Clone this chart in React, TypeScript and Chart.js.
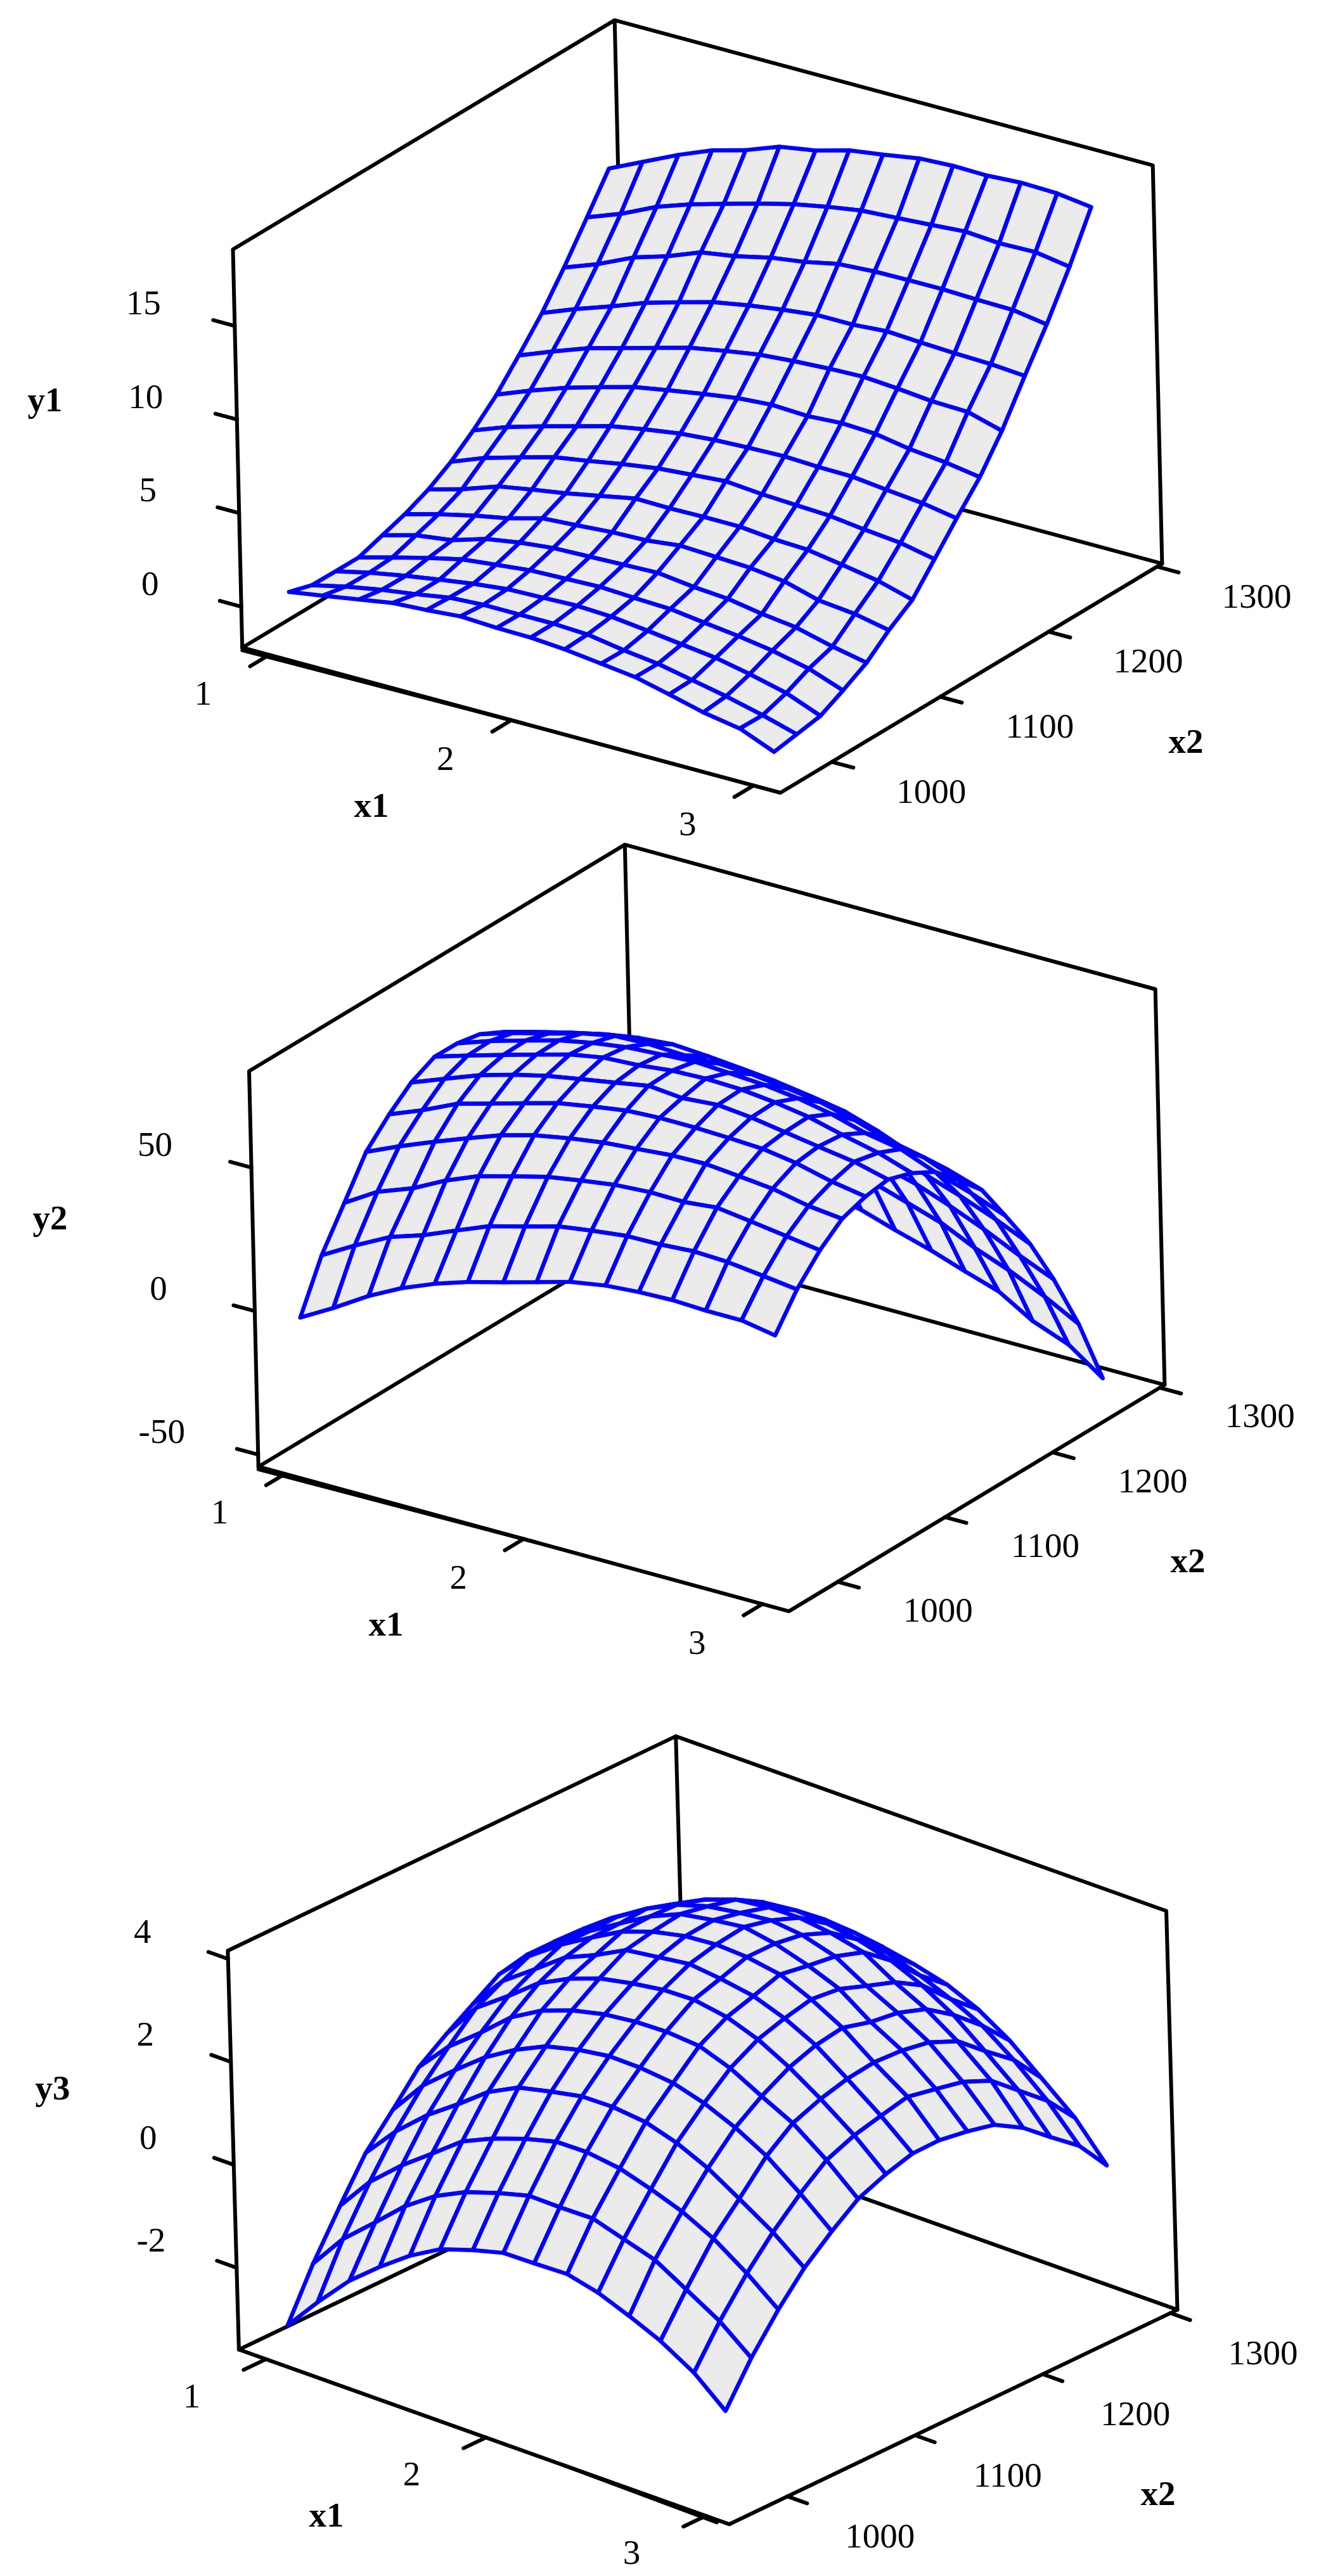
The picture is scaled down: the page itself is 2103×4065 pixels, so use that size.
import React, { useEffect, useRef } from "react";
import { Chart, registerables } from "chart.js";

Chart.register(...registerables);

const x1Grid = [1, 1.14, 1.29, 1.43, 1.57, 1.71, 1.86, 2, 2.14, 2.29, 2.43, 2.57, 2.71, 2.86, 3];
const x2Grid = [972, 993, 1015, 1036, 1058, 1079, 1101, 1122, 1143, 1165, 1186, 1208, 1229, 1251, 1272];
const x1Ticks = [1, 2, 3];
const x2Ticks = [1000, 1100, 1200, 1300];
const y1Ticks = [0, 5, 10, 15];
const y2Ticks = [-50, 0, 50];
const y3Ticks = [-2, 0, 2, 4];

// each row: one x2 value, values along x1
const y1Rows = [
  [0.5, 0.79, 1.11, 1.41, 1.52, 1.67, 1.58, 1.55, 1.41, 1.17, 0.94, 0.5, 0.03, -0.31, -1.07],
  [0.13, 0.54, 0.89, 1.15, 1.45, 1.56, 1.56, 1.56, 1.47, 1.15, 0.92, 0.54, 0.16, -0.33, -0.86],
  [0.11, 0.52, 0.87, 1.16, 1.43, 1.63, 1.69, 1.75, 1.66, 1.43, 1.19, 0.96, 0.58, 0.09, -0.64],
  [0.11, 0.6, 1.1, 1.51, 1.71, 1.91, 1.97, 2.03, 1.94, 1.86, 1.62, 1.39, 1.1, 0.66, -0.01],
  [0.53, 1.02, 1.28, 1.84, 2.13, 2.33, 2.39, 2.45, 2.51, 2.27, 2.13, 1.81, 1.58, 1.08, 0.7],
  [0.93, 1.42, 1.86, 2.21, 2.7, 2.82, 2.97, 3.02, 3.23, 3.14, 3.05, 2.82, 2.3, 2.09, 1.71],
  [1.49, 1.99, 2.66, 2.98, 3.27, 3.62, 4.0, 3.97, 4.0, 4.0, 3.82, 3.74, 3.44, 3.09, 2.57],
  [2.23, 2.93, 3.48, 3.98, 4.27, 4.59, 4.88, 5.03, 5.17, 5.0, 4.91, 4.82, 4.59, 4.39, 4.01],
  [3.18, 3.85, 4.41, 4.9, 5.4, 5.72, 6.01, 6.16, 6.24, 6.3, 6.22, 6.19, 5.98, 5.78, 5.46],
  [4.33, 5.03, 5.7, 6.23, 6.72, 7.04, 7.36, 7.63, 7.77, 7.68, 7.8, 7.71, 7.39, 7.19, 6.9],
  [5.69, 6.39, 7.09, 7.59, 8.08, 8.58, 8.93, 9.22, 9.37, 9.48, 9.54, 9.4, 9.22, 9.16, 8.64],
  [7.19, 7.89, 8.56, 9.23, 9.76, 10.25, 10.6, 10.86, 11.07, 11.07, 11.21, 11.1, 11.01, 10.95, 10.81],
  [8.89, 9.56, 10.44, 10.99, 11.69, 11.98, 12.42, 12.68, 13.06, 13.18, 13.21, 13.21, 13.15, 13.12, 12.83],
  [10.81, 11.48, 12.38, 13.0, 13.52, 14.02, 14.51, 14.86, 15.15, 15.27, 15.39, 15.53, 15.39, 15.44, 15.15],
  [12.69, 13.53, 14.43, 15.16, 15.66, 16.33, 16.65, 17.15, 17.41, 17.73, 17.82, 17.79, 17.9, 17.85, 17.61],
];

const y2Rows = [
  [-3.7, 2.8, 10.4, 16.3, 21.0, 24.8, 28.1, 31.3, 34.6, 36.7, 37.6, 38.0, 37.5, 37.5, 35.4],
  [13.3, 19.8, 26.2, 30.0, 34.8, 39.5, 42.8, 46.0, 47.7, 49.2, 49.4, 50.2, 49.7, 48.2, 46.7],
  [26.6, 33.6, 38.2, 44.1, 48.8, 51.9, 55.1, 57.0, 58.7, 59.5, 59.3, 60.5, 58.9, 57.1, 55.4],
  [39.6, 44.7, 49.7, 54.1, 58.3, 61.5, 63.8, 65.5, 66.5, 67.6, 67.8, 66.7, 65.5, 62.9, 61.6],
  [47.7, 52.3, 58.0, 61.2, 64.5, 67.7, 69.9, 71.7, 72.3, 72.3, 71.9, 71.3, 69.5, 66.4, 64.4],
  [54.1, 58.5, 63.2, 66.5, 69.3, 71.4, 73.5, 75.6, 74.5, 75.5, 74.3, 72.4, 70.5, 68.6, 65.6],
  [58.1, 61.7, 65.3, 68.6, 71.8, 73.9, 74.6, 75.9, 76.3, 75.9, 74.6, 72.7, 69.7, 66.8, 62.9],
  [58.0, 62.0, 65.6, 68.8, 71.1, 72.8, 73.6, 74.3, 73.6, 72.8, 71.3, 69.0, 65.6, 63.3, 58.6],
  [56.5, 60.1, 63.3, 66.5, 68.8, 69.2, 68.6, 69.0, 68.4, 66.9, 65.2, 62.2, 58.4, 55.7, 51.0],
  [52.3, 55.5, 58.6, 61.2, 63.1, 64.1, 63.3, 62.2, 61.0, 59.1, 57.0, 53.2, 48.5, 46.4, 42.6],
  [45.2, 48.5, 51.3, 53.6, 54.9, 55.1, 54.2, 53.2, 51.5, 48.9, 46.6, 41.8, 37.5, 33.5, 28.9],
  [35.4, 38.2, 40.7, 42.4, 43.3, 43.3, 42.4, 41.8, 39.7, 36.1, 33.3, 28.3, 24.3, 19.4, 14.2],
  [22.6, 25.3, 27.2, 28.5, 29.5, 29.5, 28.7, 27.2, 24.1, 20.5, 17.3, 12.9, 8.0, 2.1, -2.9],
  [7.0, 9.3, 11.0, 12.4, 12.7, 12.7, 12.0, 9.5, 6.7, 2.7, -1.1, -6.7, -11.2, -17.1, -23.4],
  [-11.4, -8.9, -7.0, -5.7, -5.1, -5.9, -8.6, -11.2, -15.0, -18.7, -22.8, -26.6, -33.7, -38.6, -47.1],
];

const y3Rows = [
  [-3.14, -2.48, -1.83, -1.35, -0.92, -0.58, -0.37, -0.21, -0.2, -0.18, -0.33, -0.57, -0.84, -1.23, -1.76],
  [-2.19, -1.5, -0.95, -0.42, -0.01, 0.28, 0.49, 0.65, 0.64, 0.65, 0.46, 0.27, -0.09, -0.48, -0.98],
  [-1.33, -0.65, -0.1, 0.34, 0.79, 1.06, 1.28, 1.44, 1.45, 1.36, 1.17, 0.95, 0.64, 0.19, -0.3],
  [-0.55, 0.08, 0.63, 1.05, 1.5, 1.8, 1.95, 2.07, 2.08, 2.01, 1.82, 1.54, 1.16, 0.74, 0.26],
  [0.03, 0.71, 1.24, 1.7, 2.06, 2.34, 2.5, 2.59, 2.58, 2.51, 2.33, 2.07, 1.73, 1.23, 0.71],
  [0.61, 1.22, 1.72, 2.23, 2.57, 2.79, 2.94, 3.01, 3.03, 2.98, 2.76, 2.43, 2.12, 1.63, 1.09],
  [0.99, 1.71, 2.17, 2.63, 2.93, 3.15, 3.28, 3.37, 3.39, 3.28, 3.06, 2.73, 2.33, 1.85, 1.31],
  [1.32, 1.98, 2.44, 2.88, 3.14, 3.45, 3.54, 3.62, 3.55, 3.44, 3.22, 2.91, 2.47, 1.98, 1.46],
  [1.65, 2.22, 2.67, 3.02, 3.35, 3.56, 3.7, 3.75, 3.72, 3.61, 3.34, 3.0, 2.54, 2.1, 1.47],
  [1.77, 2.22, 2.67, 3.03, 3.38, 3.64, 3.75, 3.83, 3.72, 3.52, 3.28, 2.85, 2.51, 1.99, 1.38],
  [1.77, 2.24, 2.69, 3.07, 3.36, 3.54, 3.64, 3.71, 3.64, 3.45, 3.09, 2.78, 2.42, 1.88, 1.26],
  [1.68, 2.19, 2.58, 2.9, 3.2, 3.41, 3.49, 3.5, 3.42, 3.27, 2.9, 2.59, 2.18, 1.64, 0.94],
  [1.5, 2.01, 2.4, 2.69, 2.93, 3.11, 3.18, 3.14, 3.04, 2.86, 2.59, 2.23, 1.74, 1.2, 0.51],
  [1.18, 1.66, 2.03, 2.33, 2.54, 2.67, 2.74, 2.69, 2.53, 2.31, 2.06, 1.76, 1.31, 0.74, 0.08],
  [0.78, 1.2, 1.56, 1.84, 2.03, 2.16, 2.21, 2.17, 2.05, 1.88, 1.61, 1.22, 0.71, 0.16, -0.55],
];

const BLUE = "#0000FF";
const FACE = "#EBEBEB";
const BLACK = "#000000";
const SERIF = '"Liberation Serif", "Times New Roman", serif';
const PAGE_W = 2103;
const PAGE_H = 4065;
const BLUE_W = 6.5;
const BLACK_W = 6;

const panels = [
  {
    name: "y1", rows: y1Rows, yTicks: y1Ticks, top: 0, height: 1330,
    L: [382.2, 1022], F: [1231.2, 1251], R: [1833.4, 889.4], T: [367.5, 393.5],
    x1Lo: 0.889, x1Hi: 3.111, x2Lo: 952.6, x2Hi: 1304.6, yLo: -2.19, yHi: 19.09,
    yOff: [-144, -37], x1Off: [-104, 60], x2Off: [157, 46],
    yTitle: [71, 630], x1Title: [586, 1270], x2Title: [1871, 1169],
    wedge: [0.889, 2.05, 0.135, 0],
  },
  {
    name: "y2", rows: y2Rows, yTicks: y2Ticks, top: 1330, height: 1360,
    L: [407.7, 2314.5], F: [1244.6, 2542.6], R: [1837.4, 2185.3], T: [393, 1690.2],
    x1Lo: 0.889, x1Hi: 3.111, x2Lo: 954.5, x2Hi: 1304.5, yLo: -54.2, yHi: 83.6,
    yOff: [-152, -37], x1Off: [-103, 60], x2Off: [158, 44],
    yTitle: [79, 1921], x1Title: [609, 2562], x2Title: [1874, 2462],
    wedge: [0.889, 2.05, 0.9, 0],
  },
  {
    name: "y3", rows: y3Rows, yTicks: y3Ticks, top: 2690, height: 1375,
    L: [376.9, 3707.7], F: [1150.7, 3983.3], R: [1857.5, 3644.9], T: [359.4, 3078.3],
    x1Lo: 0.877, x1Hi: 3.107, x2Lo: 954.5, x2Hi: 1305.4, yLo: -3.59, yHi: 4.16,
    yOff: [-135, -44], x1Off: [-117, 57], x2Off: [146, 62],
    yTitle: [83, 3294], x1Title: [515, 3968], x2Title: [1827, 3934],
    wedge: [2.35, 3.05, 0, 0.05],
  },
];

type Panel = (typeof panels)[number];

function project(p: Panel, x1: number, x2: number, y: number) {
  const s = (x1 - p.x1Lo) / (p.x1Hi - p.x1Lo);
  const t = (x2 - p.x2Lo) / (p.x2Hi - p.x2Lo);
  const h = (y - p.yLo) / (p.yHi - p.yLo);
  return {
    x: p.L[0] + s * (p.F[0] - p.L[0]) + t * (p.R[0] - p.F[0]) + h * (p.T[0] - p.L[0]),
    y: p.L[1] + s * (p.F[1] - p.L[1]) + t * (p.R[1] - p.F[1]) + h * (p.T[1] - p.L[1]) - p.top,
  };
}

function lineSet(data: { x: number; y: number }[], color: string, width: number) {
  return {
    data,
    showLine: true,
    fill: false,
    borderColor: color,
    borderWidth: width,
    borderCapStyle: "round",
    borderJoinStyle: "round",
    pointRadius: 0,
    tension: 0,
    clip: false,
  };
}

function buildDatasets(p: Panel) {
  const out: any[] = [];
  const x1Span = p.x1Hi - p.x1Lo;
  const x2Span = p.x2Hi - p.x2Lo;

  // surface: nearest quad first, because the last dataset is painted first
  for (let j = 0; j < x2Grid.length - 1; j++) {
    for (let i = x1Grid.length - 2; i >= 0; i--) {
      const corners = [
        project(p, x1Grid[i], x2Grid[j], p.rows[j][i]),
        project(p, x1Grid[i + 1], x2Grid[j], p.rows[j][i + 1]),
        project(p, x1Grid[i + 1], x2Grid[j + 1], p.rows[j + 1][i + 1]),
        project(p, x1Grid[i], x2Grid[j + 1], p.rows[j + 1][i]),
      ];
      out.push({
        ...lineSet([...corners, corners[0]], BLUE, BLUE_W),
        fill: "shape",
        backgroundColor: FACE,
      });
    }
  }

  // tick marks
  for (const v of x1Ticks) {
    out.push(lineSet([project(p, v, p.x2Lo, p.yLo), project(p, v, p.x2Lo - 0.05 * x2Span, p.yLo)], BLACK, BLACK_W));
  }
  for (const v of x2Ticks) {
    out.push(lineSet([project(p, p.x1Hi, v, p.yLo), project(p, p.x1Hi + 0.04 * x1Span, v, p.yLo)], BLACK, BLACK_W));
  }
  for (const v of p.yTicks) {
    out.push(lineSet([project(p, p.x1Lo, p.x2Lo, v), project(p, p.x1Lo - 0.04 * x1Span, p.x2Lo, v)], BLACK, BLACK_W));
  }

  // box frame
  const a = project(p, p.x1Lo, p.x2Lo, p.yLo);
  const b = project(p, p.x1Hi, p.x2Lo, p.yLo);
  const c = project(p, p.x1Hi, p.x2Hi, p.yLo);
  const d = project(p, p.x1Lo, p.x2Hi, p.yLo);
  const aT = project(p, p.x1Lo, p.x2Lo, p.yHi);
  const cT = project(p, p.x1Hi, p.x2Hi, p.yHi);
  const dT = project(p, p.x1Lo, p.x2Hi, p.yHi);
  out.push(lineSet([a, b, c], BLACK, BLACK_W));
  out.push(lineSet([a, aT, dT, cT, c, d, a], BLACK, BLACK_W));
  out.push(lineSet([d, dT], BLACK, BLACK_W));
  out.push(
    lineSet(
      [
        project(p, p.wedge[0], p.x2Lo, p.yLo - p.wedge[2]),
        project(p, p.wedge[1], p.x2Lo, p.yLo - p.wedge[3]),
      ],
      BLACK,
      BLACK_W
    )
  );
  return out;
}

function textPlugin(p: Panel) {
  return {
    id: "panelText",
    afterDatasetsDraw(chart: any) {
      const ctx = chart.ctx;
      const sx = chart.scales.x;
      const sy = chart.scales.y;
      const lift = 18.6;
      const put = (text: string, pt: { x: number; y: number }, off: number[]) => {
        ctx.fillText(text, sx.getPixelForValue(pt.x) + off[0], sy.getPixelForValue(pt.y) + off[1] + lift);
      };
      ctx.save();
      ctx.fillStyle = BLACK;
      ctx.textAlign = "center";
      ctx.textBaseline = "alphabetic";
      ctx.font = `55px ${SERIF}`;
      for (const v of x1Ticks) put(String(v), project(p, v, p.x2Lo, p.yLo), p.x1Off);
      for (const v of x2Ticks) put(String(v), project(p, p.x1Hi, v, p.yLo), p.x2Off);
      for (const v of p.yTicks) put(String(v), project(p, p.x1Lo, p.x2Lo, v), p.yOff);
      ctx.font = `bold 55px ${SERIF}`;
      const abs = (q: number[]) => ({ x: q[0], y: q[1] - p.top });
      put(p.name, abs(p.yTitle), [0, 0]);
      put("x1", abs(p.x1Title), [0, 0]);
      put("x2", abs(p.x2Title), [0, 0]);
      ctx.restore();
    },
  };
}

function Surface({ panel }: { panel: Panel }) {
  const ref = useRef<HTMLCanvasElement>(null);
  useEffect(() => {
    if (!ref.current) return;
    const chart = new Chart(ref.current, {
      type: "scatter",
      data: { datasets: buildDatasets(panel) as any },
      options: {
        animation: false,
        responsive: false,
        devicePixelRatio: 1,
        events: [],
        layout: { padding: 0 },
        plugins: { legend: { display: false }, tooltip: { enabled: false }, title: { display: false } },
        scales: {
          x: { type: "linear", min: 0, max: PAGE_W, display: false },
          y: { type: "linear", min: 0, max: panel.height, reverse: true, display: false },
        },
      },
      plugins: [textPlugin(panel) as any],
    });
    return () => chart.destroy();
  }, [panel]);
  return (
    <canvas
      ref={ref}
      width={PAGE_W}
      height={panel.height}
      style={{ position: "absolute", left: 0, top: panel.top, width: PAGE_W, height: panel.height, display: "block" }}
    />
  );
}

export default function App() {
  return (
    <div style={{ position: "absolute", left: 0, top: 0, width: PAGE_W, height: PAGE_H, background: "#fff", overflow: "hidden" }}>
      {panels.map((p) => (
        <Surface key={p.name} panel={p} />
      ))}
    </div>
  );
}
